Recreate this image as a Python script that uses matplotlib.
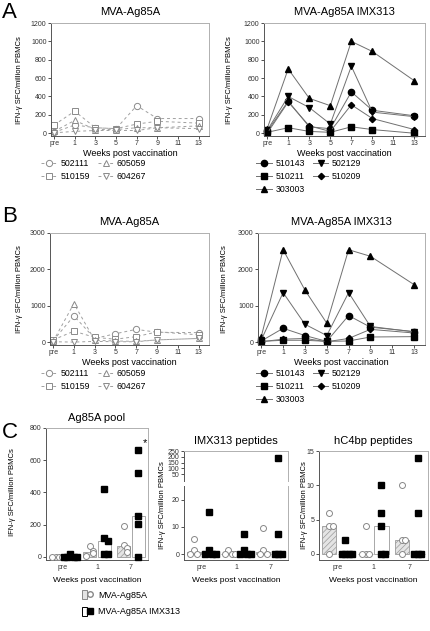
import numpy as np
import matplotlib
matplotlib.use('Agg')
import matplotlib.pyplot as plt
from matplotlib.lines import Line2D
from matplotlib.patches import Patch
from matplotlib.legend_handler import HandlerTuple

plt.rcParams['font.family'] = ['Liberation Sans', 'DejaVu Sans']
plt.rcParams['hatch.linewidth'] = 0.5

nan = np.nan

# time course (panels A, B)
weeks = ['pre', '1', '3', '5', '7', '9', '11', '13']
week_x = [-1, 1, 3, 5, 7, 9, 11, 13]

mva_ids = ['502111', '510159', '605059', '604267']
mva_markers = ['o', 's', '^', 'v']
imx_ids = ['510143', '510211', '303003', '502129', '510209']
imx_markers = ['o', 's', '^', 'v', 'D']

# A: Ag85A, MVA-Ag85A
A_502111 = [10, 90, 60, 50, 300, 160, nan, 160]
A_510159 = [90, 240, 60, 50, 100, 130, nan, 110]
A_605059 = [20, 140, 40, 40, 60, 60, nan, 80]
A_604267 = [5, 20, 30, 30, 30, 60, nan, 50]
# A: Ag85A, MVA-Ag85A IMX313
A_510143 = [20, 350, 70, 50, 450, 250, nan, 190]
A_510211 = [10, 60, 20, 10, 70, 40, nan, 0]
A_303003 = [50, 700, 380, 300, 1000, 890, nan, 570]
A_502129 = [30, 400, 280, 100, 730, 230, nan, 180]
A_510209 = [0, 340, 80, 20, 310, 160, nan, 40]

# B: MVA-Ag85A
B_502111 = [40, 720, 100, 230, 350, 270, nan, 260]
B_510159 = [60, 300, 130, 80, 150, 280, nan, 200]
B_605059 = [20, 1060, 50, 30, 20, 60, nan, 100]
B_604267 = [10, 0, 20, 10, 10, 60, nan, 100]
# B: MVA-Ag85A IMX313
B_510143 = [30, 380, 180, 20, 730, 410, nan, 290]
B_510211 = [20, 50, 50, 20, 30, 140, nan, 150]
B_303003 = [150, 2540, 1430, 520, 2540, 2360, nan, 1580]
B_502129 = [60, 1360, 490, 180, 1360, 430, nan, 280]
B_510209 = [10, 80, 100, 10, 100, 350, nan, 250]

# C: per group (pre, 1, 7)
c_groups = ['pre', '1', '7']
pool_mva = [[0, 0, 0, 0], [70, 35, 25, 5], [190, 75, 55, 30]]
pool_imx = [[15, 0, 0, 0, 0], [420, 115, 95, 20, 15], [665, 520, 255, 205, 0]]
pep_mva = [[5.5, 1.5, 0, 0], [1.5, 0, 0, 0], [9.5, 1.5, 0, 0]]
pep_imx = [[15.5, 1.5, 0, 0, 0], [7.5, 1.5, 0, 0, 0], [190, 7.5, 0, 0, 0]]
c4_mva = [[6, 4, 4, 0], [4, 0, 0, 0], [10, 2, 2, 0]]
c4_imx = [[2, 0, 0, 0, 0], [10, 6, 4, 0, 0], [14, 6, 0, 0, 0]]

W, H = 430, 631
fig = plt.figure(figsize=(W / 100, H / 100), dpi=100)
ylab = 'IFN-γ SFC/million PBMCs'


def add_ax(x0, y0, x1, y1):
    # box in pixels, y measured from top
    return fig.add_axes([x0 / W, 1 - y1 / H, (x1 - x0) / W, (y1 - y0) / H])


def style(ax):
    for s in ['top', 'right']:
        ax.spines[s].set_color('#b0b0b0')
    for s in ['left', 'bottom']:
        ax.spines[s].set_color('#555555')
    for s in ax.spines.values():
        s.set_linewidth(0.7)
    ax.tick_params(labelsize=5, length=2, width=0.6, pad=1.2, colors='#333333')


def fig_text(x, y, s, **kw):
    fig.text(x / W, 1 - y / H, s, **kw)


def course(box, series, ids, markers, filled, ymin, ymax, yticks, title, leg_xy):
    ax = add_ax(*box)
    style(ax)
    handles = []
    for vals, m in zip(series, markers):
        v = np.array(vals, float)
        ok = ~np.isnan(v)
        x = np.array(week_x)[ok]
        ms = 3.2 if m == 'D' else 4.5
        if filled:
            h, = ax.plot(x, v[ok], '-', color='#707070', lw=0.7, marker=m, ms=ms,
                         mfc='black', mec='black', clip_on=False)
        else:
            h, = ax.plot(x, v[ok], ls=(0, (3, 3)), color='#a0a0a0', lw=0.7, marker=m,
                         ms=ms, mfc='white', mec='#8a8a8a', mew=0.7, clip_on=False)
        handles.append(h)
    ax.set_xlim(-1.3, 14)
    ax.set_ylim(ymin, ymax)
    ax.set_xticks(week_x)
    ax.set_xticklabels(weeks)
    ax.set_yticks(yticks)
    ax.set_title(title, fontsize=8, pad=6)
    ax.set_xlabel('Weeks post vaccination', fontsize=6.5, labelpad=1)
    fig.legend(handles, ids, ncol=2, loc='upper left',
               bbox_to_anchor=(leg_xy[0] / W, 1 - leg_xy[1] / H), frameon=False,
               fontsize=6.3, handlelength=1.8, handletextpad=0.4, columnspacing=0.9,
               labelspacing=0.45, borderpad=0, borderaxespad=0)
    return ax


axA1 = course((51, 23, 209, 136), [A_502111, A_510159, A_605059, A_604267],
              mva_ids, mva_markers, False, -30, 1200, range(0, 1201, 200),
              'MVA-Ag85A', (41, 159))
axA2 = course((264, 23, 425, 136), [A_510143, A_510211, A_303003, A_502129, A_510209],
              imx_ids, imx_markers, True, -30, 1200, range(0, 1201, 200),
              'MVA-Ag85A IMX313', (256, 159))
axB1 = course((50, 233, 209, 345), [B_502111, B_510159, B_605059, B_604267],
              mva_ids, mva_markers, False, -80, 3000, [0, 1000, 2000, 3000],
              'MVA-Ag85A', (41, 369))
axB2 = course((258, 233, 425, 345), [B_510143, B_510211, B_303003, B_502129, B_510209],
              imx_ids, imx_markers, True, -80, 3000, [0, 1000, 2000, 3000],
              'MVA-Ag85A IMX313', (256, 369))

for x, y in [(20, 80), (230, 80), (20, 289), (224, 289)]:
    fig_text(x, y, ylab, rotation=90, ha='center', va='center', fontsize=5.5)

fig_text(2, 12, 'A', fontsize=16, va='center')
fig_text(2, 217, 'B', fontsize=16, va='center')
fig_text(2, 433, 'C', fontsize=16, va='center')


def swarm(vals, span, step=0.1):
    offs = []
    for i, v in enumerate(vals):
        k = sum(1 for w in vals[:i] if abs(w - v) < span)
        offs.append(((k + 1) // 2) * step * (1 if k % 2 else -1))
    return np.array(offs)


def c_points(ax, mva, imx, span, keep=lambda v: True):
    for g, (m, q) in enumerate(zip(mva, imx)):
        mv = [v for v in m if keep(v)]
        qv = [v for v in q if keep(v)]
        if mv:
            ax.plot(g - 0.22 + swarm(mv, span), mv, 'o', mfc='white', mec='#888888',
                    mew=0.7, ms=4.3, clip_on=False, zorder=3)
        if qv:
            ax.plot(g + 0.22 + swarm(qv, span), qv, 's', color='black', ms=4.6,
                    clip_on=False, zorder=3)


def c_bars(ax, mva, imx):
    for g, (m, q) in enumerate(zip(mva, imx)):
        ax.bar(g - 0.22, np.median(m), width=0.4, color='#e4e4e4', hatch='//////',
               edgecolor='#9a9a9a', lw=0.6, zorder=2)
        ax.bar(g + 0.22, np.median(q), width=0.4, color='white',
               edgecolor='#9a9a9a', lw=0.6, zorder=2)


def c_axes(ax, ymin, ymax, yticks):
    style(ax)
    ax.set_xlim(-0.5, 2.5)
    ax.set_ylim(ymin, ymax)
    ax.set_yticks(yticks)
    ax.set_xticks(range(3))
    ax.set_xticklabels(c_groups)
    ax.tick_params(axis='x', length=0, pad=3)
    ax.set_xlabel('Weeks post vaccination', fontsize=6, labelpad=4)


# C left: Ag85A pool
axC1 = add_ax(46, 428, 148, 560)
c_axes(axC1, -20, 800, range(0, 801, 200))
c_bars(axC1, pool_mva, pool_imx)
c_points(axC1, pool_mva, pool_imx, 37)
axC1.text(2.42, 690, '*', fontsize=8, ha='center')
axC1.set_title('Ag85A pool', fontsize=8, pad=5)

# C middle: IMX313 peptides, broken axis
axC2 = add_ax(184, 486, 288, 560)
c_axes(axC2, -2.1, 25, [0, 10, 20])
axC2.spines['top'].set_visible(False)
c_bars(axC2, pep_mva, pep_imx)
c_points(axC2, pep_mva, pep_imx, 2.2, keep=lambda v: v <= 25)
axC2u = add_ax(184, 451, 288, 481)
style(axC2u)
axC2u.spines['bottom'].set_visible(False)
axC2u.set_xlim(-0.5, 2.5)
axC2u.set_ylim(-7.5, 250)
axC2u.set_yticks(range(50, 251, 50))
axC2u.set_xticks([])
c_points(axC2u, pep_mva, pep_imx, 20, keep=lambda v: v > 25)
axC2u.set_title('IMX313 peptides', fontsize=8, pad=5)

# C right: hC4bp peptides
axC3 = add_ax(319, 451, 428, 560)
c_axes(axC3, -0.9, 15, [0, 5, 10, 15])
c_bars(axC3, c4_mva, c4_imx)
c_points(axC3, c4_mva, c4_imx, 0.9)
axC3.set_title('hC4bp peptides', fontsize=8, pad=5)

for x, y in [(13, 492), (163, 505), (304, 505)]:
    fig_text(x, y, ylab, rotation=90, ha='center', va='center', fontsize=5.5)

# legend for C
c_handles = [
    (Patch(fc='#e4e4e4', ec='#888888', lw=0.7),
     Line2D([], [], marker='o', ls='', mfc='white', mec='#888888', ms=4)),
    (Patch(fc='white', ec='black', lw=0.7),
     Line2D([], [], marker='s', ls='', color='black', ms=4)),
]
fig.legend(c_handles, ['MVA-Ag85A', 'MVA-Ag85A IMX313'],
           handler_map={tuple: HandlerTuple(ndivide=None, pad=0)},
           loc='upper left', bbox_to_anchor=(82 / W, 1 - 590 / H), frameon=False,
           fontsize=6.5, handlelength=1.15, handleheight=1.15, labelspacing=0.8,
           handletextpad=0.6, borderpad=0, borderaxespad=0)

fig.savefig('out.png', dpi=100)
